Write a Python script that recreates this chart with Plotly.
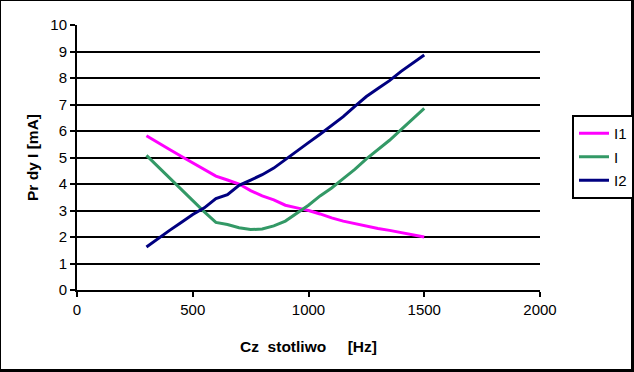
import plotly.graph_objects as go

freq = [300, 350, 400, 450, 500, 550, 600, 650, 700, 750, 800, 850, 900,
        950, 1000, 1050, 1100, 1150, 1200, 1250, 1300, 1350, 1400, 1450, 1500]
i1 = [5.82, 5.55, 5.30, 5.05, 4.80, 4.52, 4.30, 4.15, 4.00, 3.75, 3.55, 3.40, 3.20,
      3.10, 3.00, 2.87, 2.72, 2.60, 2.50, 2.40, 2.32, 2.25, 2.17, 2.10, 2.00]
i0 = [5.08, 4.65, 4.20, 3.80, 3.35, 2.95, 2.55, 2.47, 2.35, 2.28, 2.30, 2.42, 2.60,
      2.90, 3.20, 3.55, 3.85, 4.20, 4.55, 4.95, 5.30, 5.65, 6.05, 6.45, 6.85]
i2 = [1.62, 1.95, 2.25, 2.55, 2.85, 3.10, 3.45, 3.60, 3.95, 4.15, 4.35, 4.60, 4.93,
      5.24, 5.56, 5.88, 6.20, 6.54, 6.93, 7.30, 7.60, 7.90, 8.25, 8.55, 8.87]
names = ["I1", "I", "I2"]
colors = ["#FF00FF", "#339966", "#000080"]
x_ticks = [0, 500, 1000, 1500, 2000]
y_ticks = list(range(0, 11))

W, H = 634, 372
L, R, T, B = 77, 94, 25, 82
PW, PH = W - L - R, H - T - B


def px(x):
    return (x - L) / PW


def py(y):
    return (H - B - y) / PH


fig = go.Figure()
for nm, ys, c in zip(names, [i1, i0, i2], colors):
    fig.add_trace(go.Scatter(x=freq, y=ys, mode="lines", name=nm, legendgroup=nm,
                             line=dict(color=c, width=3)))

font = dict(family="Liberation Sans, Arial, sans-serif", size=15, color="#000000")
tfont = dict(family="Liberation Sans, Arial, sans-serif", size=15.5, color="#000000")

shapes = [
    dict(type="line", xref="paper", yref="paper", x0=px(0.5), x1=px(0.5), y0=py(0), y1=py(H), line=dict(color="black", width=1)),
    dict(type="line", xref="paper", yref="paper", x0=px(0), x1=px(W), y0=py(0.5), y1=py(0.5), line=dict(color="black", width=1)),
    dict(type="line", xref="paper", yref="paper", x0=px(632.5), x1=px(632.5), y0=py(0), y1=py(H), line=dict(color="black", width=3)),
    dict(type="line", xref="paper", yref="paper", x0=px(0), x1=px(W), y0=py(370.5), y1=py(370.5), line=dict(color="black", width=3)),
]

fig.update_layout(
    width=W, height=H,
    margin=dict(l=L, r=R, t=T, b=B, pad=0, autoexpand=False),
    paper_bgcolor="white", plot_bgcolor="white",
    font=font,
    showlegend=True,
    legend=dict(x=px(572), y=py(115), xanchor="left", yanchor="top",
                bordercolor="black", borderwidth=2, bgcolor="white",
                font=font, tracegroupgap=1, itemwidth=30, traceorder="grouped"),
    xaxis=dict(range=[0, 2000], tickvals=x_ticks, ticktext=[str(v) for v in x_ticks],
               showgrid=False, zeroline=False, showline=True, linecolor="black", linewidth=2,
               ticks="outside", ticklen=5, tickwidth=2, tickcolor="black", automargin=False,
               tickfont=font,
               title=dict(text="<b>Cz\u00a0\u00a0stotliwo\u00a0\u00a0\u00a0\u00a0\u00a0[Hz]</b>", font=tfont, standoff=24)),
    yaxis=dict(range=[0, 10], tickvals=y_ticks, ticktext=[str(v) for v in y_ticks],
               showgrid=True, gridcolor="black", gridwidth=2, zeroline=False,
               showline=True, linecolor="black", linewidth=2, automargin=False,
               ticks="outside", ticklen=5, tickwidth=2, tickcolor="black",
               tickfont=font,
               title=dict(text="<b>Pr dy I [mA]</b>", font=tfont, standoff=8)),
    shapes=shapes,
)

fig.write_html("out.html", config={"displayModeBar": False},
               post_script="document.body.style.margin='0';document.body.style.overflow='hidden';")
